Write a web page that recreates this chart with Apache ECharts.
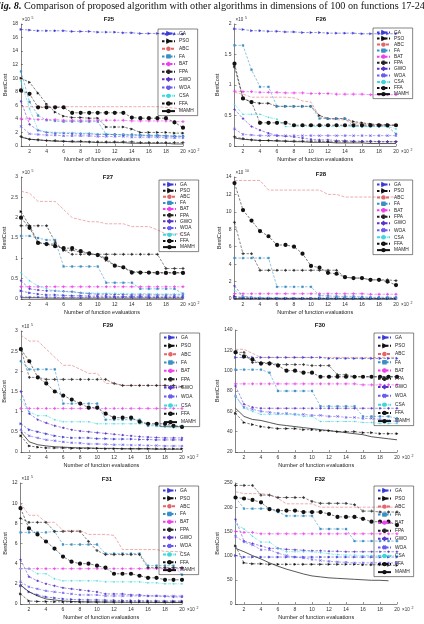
<!DOCTYPE html>
<html><head><meta charset="utf-8">
<script src="https://cdn.jsdelivr.net/npm/echarts@6/dist/echarts.min.js"></script>
<style>html,body{margin:0;padding:0;background:#fff}#c{width:424px;height:624px}</style>
</head><body><div id="c"></div>
<script>
// ---------------- DATA ----------------
const algorithms = ['GA','PSO','ABC','FA','BAT','FPA','GWO','WOA','CSA','FFA','MAMH'];
const evaluations = [1,2,3,4,5,6,7,8,9,10,11,12,13,14,15,16,17,18,19,20];
const xTickValues = [2,4,6,8,10,12,14,16,18,20];
const panelTitles = ['F25','F26','F27','F28','F29','F30','F31','F32'];
const yExponents = ['5','5','5','10','5','','5',''];
const yMins = [0,0,0,0,0,20,0,0];
const yMaxs = [18,2,3,14,3,140,12,250];
const yIntervals = [2,0.5,0.5,2,0.5,20,2,50];

// each panel: rows in the order of `algorithms`
const F25 = [
  [17.2,17.1,17.0,17.0,17.0,17.0,16.9,16.9,16.9,16.8,16.8,16.8,16.7,16.7,16.6,16.6,16.6,16.5,16.5,16.5],
  [10.0,9.4,7.8,6.2,5.0,4.4,4.2,4.2,4.1,4.1,2.8,2.8,2.8,2.5,2.0,2.0,2.0,2.0,1.9,1.9],
  [5.8,5.8,5.8,5.8,5.8,5.8,5.8,5.8,5.8,5.8,5.8,5.8,5.8,5.8,5.8,5.8,5.8,5.7,5.6,5.4],
  [11.0,6.5,4.5,3.8,3.7,3.6,3.6,3.6,3.6,3.6,1.7,1.7,1.7,1.7,1.6,1.6,1.6,1.5,1.5,1.5],
  [4.0,4.0,3.9,3.9,3.9,3.8,3.8,3.8,3.8,3.8,3.8,3.8,3.8,3.7,3.7,3.7,3.7,3.7,3.6,3.6],
  [1.4,1.0,0.9,0.8,0.8,0.7,0.7,0.7,0.6,0.6,0.6,0.6,0.6,0.6,0.5,0.5,0.5,0.5,0.5,0.5],
  [6.6,3.2,2.3,2.0,1.9,1.9,1.8,1.8,1.8,1.7,1.7,1.7,1.6,1.6,1.6,1.5,1.5,1.5,1.4,1.4],
  [2.9,1.8,1.7,1.6,1.6,1.5,1.5,1.5,1.5,1.4,1.4,1.4,1.4,1.3,1.3,1.3,1.3,1.2,1.2,1.2],
  [9.6,5.5,2.4,2.1,2.0,2.0,2.0,1.9,1.9,1.8,1.8,1.7,1.7,1.6,1.6,1.5,1.5,1.5,1.4,1.4],
  [8.2,7.7,5.7,5.7,5.7,5.7,4.9,4.9,4.9,4.9,4.9,4.9,4.9,4.2,4.1,4.1,4.1,4.1,3.5,2.7],
  [1.3,1.0,0.9,0.8,0.7,0.7,0.6,0.6,0.6,0.5,0.5,0.5,0.5,0.4,0.4,0.4,0.4,0.4,0.3,0.3]
];
const F26 = [
  [1.92,1.91,1.89,1.89,1.88,1.88,1.87,1.87,1.86,1.86,1.86,1.85,1.85,1.85,1.85,1.84,1.84,1.84,1.84,1.84],
  [1.30,0.78,0.72,0.70,0.70,0.65,0.65,0.65,0.65,0.65,0.50,0.45,0.45,0.45,0.40,0.38,0.36,0.35,0.35,0.34],
  [0.88,0.85,0.80,0.80,0.80,0.80,0.80,0.79,0.74,0.72,0.48,0.44,0.43,0.43,0.38,0.36,0.35,0.34,0.34,0.33],
  [1.65,1.65,1.25,0.97,0.97,0.65,0.65,0.65,0.65,0.65,0.45,0.45,0.45,0.45,0.32,0.32,0.32,0.32,0.32,0.20],
  [0.90,0.89,0.89,0.88,0.88,0.88,0.87,0.87,0.87,0.86,0.86,0.86,0.85,0.85,0.85,0.85,0.84,0.84,0.84,0.84],
  [0.15,0.12,0.10,0.09,0.09,0.09,0.08,0.08,0.08,0.08,0.08,0.07,0.07,0.07,0.07,0.07,0.07,0.07,0.07,0.07],
  [0.60,0.45,0.32,0.26,0.21,0.17,0.16,0.15,0.13,0.11,0.10,0.10,0.09,0.09,0.08,0.08,0.08,0.07,0.07,0.07],
  [0.28,0.19,0.18,0.17,0.17,0.17,0.17,0.17,0.17,0.17,0.17,0.17,0.17,0.17,0.17,0.17,0.17,0.17,0.17,0.17],
  [0.68,0.52,0.52,0.52,0.47,0.44,0.32,0.32,0.32,0.32,0.32,0.32,0.32,0.32,0.32,0.32,0.32,0.32,0.32,0.28],
  [1.35,0.78,0.72,0.38,0.38,0.38,0.38,0.34,0.34,0.34,0.34,0.34,0.34,0.34,0.34,0.34,0.34,0.34,0.34,0.34],
  [0.13,0.11,0.10,0.09,0.09,0.08,0.08,0.07,0.07,0.06,0.06,0.06,0.05,0.05,0.05,0.05,0.04,0.04,0.04,0.04]
];
const F27 = [
  [0.20,0.15,0.12,0.10,0.10,0.09,0.08,0.08,0.07,0.07,0.07,0.06,0.06,0.06,0.06,0.05,0.05,0.05,0.05,0.05],
  [2.15,1.80,1.40,1.35,1.35,1.20,1.20,1.15,1.12,1.08,0.95,0.82,0.78,0.68,0.66,0.65,0.65,0.65,0.65,0.65],
  [2.65,2.60,2.40,2.40,2.40,2.20,2.00,1.95,1.90,1.90,1.85,1.85,1.85,1.78,1.78,1.78,1.70,1.60,1.60,1.60],
  [1.55,1.55,1.50,1.45,1.45,0.80,0.80,0.80,0.80,0.80,0.40,0.40,0.40,0.40,0.25,0.25,0.25,0.25,0.25,0.13],
  [0.30,0.30,0.30,0.30,0.30,0.30,0.30,0.30,0.30,0.30,0.30,0.30,0.30,0.30,0.30,0.30,0.30,0.30,0.30,0.30],
  [1.80,1.80,1.80,1.80,1.40,1.20,1.10,1.10,1.10,1.10,1.10,1.10,1.10,1.10,1.10,1.10,1.10,0.75,0.75,0.75],
  [0.45,0.25,0.22,0.20,0.20,0.19,0.18,0.15,0.13,0.12,0.12,0.11,0.11,0.10,0.10,0.10,0.10,0.10,0.10,0.10],
  [0.06,0.05,0.05,0.05,0.04,0.04,0.04,0.04,0.04,0.04,0.04,0.04,0.04,0.04,0.04,0.04,0.04,0.04,0.04,0.04],
  [0.65,0.45,0.32,0.25,0.20,0.18,0.17,0.15,0.15,0.14,0.14,0.14,0.13,0.13,0.13,0.13,0.12,0.12,0.12,0.12],
  [2.00,1.75,1.38,1.35,1.30,1.25,1.25,1.18,1.12,1.08,1.00,0.82,0.78,0.65,0.65,0.65,0.64,0.64,0.64,0.64],
  [0.03,0.03,0.03,0.02,0.02,0.02,0.02,0.02,0.02,0.02,0.02,0.02,0.02,0.02,0.02,0.02,0.02,0.02,0.02,0.02]
];
const F28 = [
  [0.10,0.08,0.06,0.06,0.05,0.05,0.05,0.05,0.05,0.05,0.05,0.05,0.05,0.05,0.05,0.05,0.05,0.05,0.05,0.05],
  [0.30,0.15,0.10,0.08,0.08,0.07,0.07,0.07,0.06,0.06,0.06,0.06,0.06,0.06,0.06,0.06,0.06,0.06,0.06,0.06],
  [13.6,13.6,13.6,13.6,12.5,12.5,12.5,12.5,12.5,12.5,12.5,12.0,12.0,11.7,11.7,11.7,11.7,11.7,11.7,11.7],
  [4.7,4.7,4.7,4.7,4.7,1.4,1.4,1.4,1.4,1.4,0.40,0.35,0.30,0.30,0.30,0.25,0.20,0.20,0.20,0.20],
  [0.60,0.60,0.60,0.60,0.60,0.60,0.60,0.60,0.60,0.60,0.60,0.60,0.60,0.60,0.60,0.60,0.55,0.55,0.55,0.55],
  [8.8,5.2,5.2,3.3,3.3,3.3,3.3,3.3,3.3,3.3,3.3,3.3,3.3,2.5,2.4,2.4,2.2,2.2,2.2,2.1],
  [1.5,0.30,0.20,0.15,0.12,0.10,0.10,0.10,0.10,0.10,0.10,0.10,0.10,0.10,0.10,0.10,0.10,0.10,0.10,0.10],
  [0.20,0.10,0.08,0.07,0.06,0.06,0.06,0.05,0.05,0.05,0.05,0.05,0.05,0.05,0.05,0.05,0.05,0.05,0.05,0.05],
  [1.0,0.30,0.20,0.15,0.15,0.12,0.12,0.12,0.10,0.10,0.10,0.10,0.10,0.10,0.10,0.10,0.10,0.10,0.10,0.10],
  [13.3,10.2,9.0,7.8,7.2,6.2,6.2,6.0,5.2,3.8,3.6,3.0,2.9,2.5,2.4,2.4,2.2,2.2,2.0,1.6],
  [0.05,0.04,0.03,0.03,0.03,0.02,0.02,0.02,0.02,0.02,0.02,0.02,0.02,0.02,0.02,0.02,0.02,0.02,0.02,0.02]
];
const F29 = [
  [0.70,0.55,0.50,0.45,0.40,0.37,0.35,0.35,0.35,0.33,0.33,0.32,0.32,0.32,0.31,0.31,0.30,0.30,0.30,0.30],
  [0.40,0.15,0.12,0.10,0.10,0.10,0.09,0.09,0.09,0.09,0.08,0.08,0.08,0.08,0.08,0.08,0.08,0.08,0.08,0.08],
  [2.90,2.75,2.75,2.55,2.35,2.15,2.15,2.05,1.95,1.95,1.70,1.70,1.65,1.65,1.65,1.65,1.65,1.65,1.60,1.60],
  [2.25,2.05,2.05,2.05,2.05,1.20,1.20,1.20,1.20,1.20,0.80,0.80,0.80,0.80,0.80,0.65,0.65,0.65,0.65,0.65],
  [1.08,1.08,1.08,1.08,1.08,1.08,1.08,1.08,1.08,1.08,1.08,1.08,1.08,1.08,1.08,1.08,1.08,1.08,1.08,1.08],
  [2.55,1.85,1.85,1.80,1.80,1.80,1.80,1.80,1.80,1.80,1.80,1.70,1.65,1.65,1.65,1.65,1.65,1.65,1.65,1.62],
  [1.50,0.95,0.80,0.72,0.65,0.60,0.55,0.52,0.50,0.48,0.46,0.44,0.42,0.40,0.38,0.37,0.36,0.35,0.35,0.35],
  [0.55,0.40,0.35,0.30,0.28,0.25,0.23,0.22,0.20,0.20,0.19,0.18,0.18,0.17,0.17,0.16,0.16,0.15,0.15,0.15],
  [1.30,1.00,0.90,0.90,0.80,0.75,0.75,0.75,0.75,0.70,0.70,0.70,0.70,0.70,0.70,0.70,0.65,0.62,0.60,0.60],
  [2.55,2.25,1.85,1.70,1.50,1.40,1.30,1.20,1.10,1.10,0.95,0.85,0.85,0.85,0.75,0.70,0.70,0.70,0.65,0.62],
  [0.50,0.25,0.18,0.15,0.13,0.12,0.11,0.10,0.10,0.09,0.09,0.09,0.08,0.08,0.08,0.08,0.07,0.07,0.07,0.07]
];
const F30 = [
  [113,113,113,113,113,113,113,113,113,113,113,112,112,112,112,112,112,112,112,112],
  [58,49,47,45,44,43,43,43,42,42,41,41,40,40,40,39,39,38,38,38],
  [121,121,117,113,113,113,113,113,113,113,113,113,113,113,113,113,113,113,113,113],
  [101,101,101,101,98,80,80,80,80,80,65,65,65,65,65,55,55,55,55,53],
  [87,87,87,87,87,87,87,87,87,87,87,87,87,87,87,86,86,86,86,86],
  [118,118,108,108,108,106,106,106,106,105,105,105,96,96,94,94,94,94,94,94],
  [85,67,64,63,63,63,63,63,63,63,63,63,63,63,63,63,63,63,63,63],
  [75,64,62,60,59,58,58,57,57,56,56,55,55,54,54,53,53,52,51,50],
  [75,63,60,57,57,57,57,57,55,55,50,50,50,50,50,49,49,48,48,48],
  [118,114,111,107,107,105,100,100,98,98,94,94,94,94,94,94,94,94,94,94],
  [63,55,52,51,49,47,46,45,44,43,42,41,40,39,38,37,35,34,33,32]
];
const F31 = [
  [1.8,1.2,0.9,0.7,0.6,0.5,0.45,0.42,0.4,0.4,0.38,0.36,0.35,0.34,0.33,0.32,0.31,0.3,0.3,0.3],
  [1.0,0.3,0.25,0.25,0.22,0.22,0.21,0.21,0.2,0.2,0.2,0.2,0.2,0.2,0.2,0.2,0.2,0.2,0.2,0.2],
  [10.0,8.8,8.8,8.1,8.1,7.3,7.3,7.3,6.9,6.9,6.9,6.8,5.4,5.4,5.4,5.4,5.4,5.2,5.2,5.2],
  [7.1,7.1,7.1,7.1,7.2,5.9,5.9,5.9,5.9,5.9,5.0,5.0,5.0,5.0,5.0,3.8,3.8,3.8,3.8,2.9],
  [3.5,3.5,3.5,3.5,3.5,3.5,3.5,3.5,3.5,3.5,3.5,3.5,3.5,3.5,3.5,3.5,3.5,3.5,3.5,3.5],
  [8.5,8.1,8.1,8.1,7.2,7.2,7.2,7.2,6.2,5.3,4.9,4.9,4.9,4.9,4.9,3.6,3.6,3.6,3.6,3.6],
  [4.4,2.7,2.3,2.0,1.8,1.6,1.5,1.4,1.3,1.2,1.0,1.0,1.0,0.9,0.9,0.8,0.8,0.75,0.7,0.7],
  [2.2,1.7,1.5,1.3,1.2,1.1,1.0,0.9,0.9,0.9,0.8,0.8,0.8,0.8,0.8,0.8,0.8,0.8,0.8,0.8],
  [3.5,3.5,3.0,3.0,2.5,2.3,2.3,2.3,2.3,2.3,2.2,2.2,2.2,2.2,2.2,2.1,2.1,2.0,2.0,2.0],
  [9.5,7.5,6.9,6.2,5.5,4.7,4.2,4.0,4.0,3.8,3.6,3.0,3.0,3.0,2.8,2.6,2.6,2.4,2.4,2.4],
  [1.9,1.2,0.8,0.5,0.4,0.3,0.25,0.22,0.2,0.2,0.18,0.18,0.17,0.17,0.16,0.16,0.15,0.15,0.15,0.15]
];
const F32 = [
  [100,97,97,97,97,97,97,97,97,97,97,97,97,97,97,97,97,97,97,97],
  [120,85,83,83,82,82,82,82,82,82,82,82,82,82,82,81,81,81,80,80],
  [232,228,228,228,226,218,207,207,207,207,200,200,200,200,200,200,200,200,200,200],
  [220,197,197,197,197,190,182,182,182,182,155,155,155,155,130,130,130,130,130,130],
  [150,148,148,145,145,145,145,145,145,145,145,145,145,145,145,145,145,145,145,145],
  [245,245,245,225,225,220,220,220,220,212,208,208,208,208,205,192,192,190,190,190],
  [175,130,125,120,115,115,113,112,111,110,110,109,109,108,108,108,108,108,108,108],
  [140,128,122,112,112,105,100,97,95,92,90,88,87,86,85,85,85,85,85,85],
  [165,155,140,128,128,115,108,108,108,108,106,104,102,101,101,100,100,100,100,100],
  [220,218,215,210,196,193,193,193,190,190,190,186,180,180,180,176,170,170,170,163],
  [115,108,100,93,85,78,72,67,62,58,56,54,53,52,51,50,49,49,48,null]
];
const panels = [F25,F26,F27,F28,F29,F30,F31,F32];

// ---------------- STYLE / LAYOUT ----------------
const PLUS = 'path://M4.3,0H5.7V4.3H10V5.7H5.7V10H4.3V5.7H0V4.3H4.3Z';
const STYLES = {
  GA:  {color:'#3a3ad6', symbol:'triangle', rot:-90, size:2.2, dash:[2.5,1.5]},
  PSO: {color:'#111111', symbol:'triangle', rot:-90, size:2.2, dash:[2.5,1.5]},
  ABC: {color:'#e2676b', symbol:'none', size:0, dash:[3,1.5]},
  FA:  {color:'#3a8fc6', symbol:'rect', size:1.8, dash:[2.5,1.5]},
  BAT: {color:'#ee3fee', symbol:PLUS, size:2.6, dash:[2.5,1.5]},
  FPA: {color:'#222222', symbol:PLUS, size:2.6, dash:[2.5,1.5]},
  GWO: {color:'#5b35c9', symbol:'diamond', size:2.2, dash:[2.5,1.5]},
  WOA: {color:'#6a5cf0', symbol:PLUS, rot:45, size:2.6, dash:[2.5,1.5]},
  CSA: {color:'#3fd7d9', symbol:'circle', size:1.2, dash:[3,1,0.8,1]},
  FFA: {color:'#111111', symbol:'emptyCircle', size:2.2, dash:[2.5,1.5]},
  MAMH:{color:'#111111', symbol:'none', size:0, dash:'solid'}
};
const GRIDS = [
  {left:21, top:24, width:162, height:122},
  {left:234.5, top:24, width:161.5, height:122},
  {left:21, top:177, width:162, height:122},
  {left:234.5, top:177, width:161.5, height:122},
  {left:20.5, top:331, width:161.5, height:121},
  {left:235.5, top:330, width:161.5, height:122},
  {left:20.5, top:483, width:161.5, height:121},
  {left:235.5, top:483, width:161.5, height:121}
];
const LEGBOX = [[158,29,200,121],[373,28,411,104],[159,180,196,257],[373,180,405,260],
                [160,333,194,432],[374,333,409,431],[159,486,195,580],[374,486,411,582]];
const TITLEPOS = [[109,19],[321,19],[108,177],[321,174],[108,325],[320,325],[107,479],[320,479]];
const FONT = 'Liberation Sans';

const option = {animation:false, backgroundColor:'#fff',
  grid:[], xAxis:[], yAxis:[], series:[], legend:[], graphic:[]};

panels.forEach((rows, p) => {
  const g = GRIDS[p];
  option.grid.push({left:g.left, top:g.top, width:g.width, height:g.height, containLabel:false});
  const axisCommon = {
    axisLine:{show:true, onZero:false, lineStyle:{color:'#333', width:0.6}},
    axisTick:{show:true, inside:true, length:2, lineStyle:{color:'#333', width:0.5}},
    splitLine:{show:false},
    nameLocation:'middle',
    nameTextStyle:{fontSize:5.5, color:'#222', fontFamily:FONT}
  };
  option.xAxis.push(Object.assign({}, axisCommon, {
    type:'value', gridIndex:p, min:1, max:20,
    axisTick:Object.assign({}, axisCommon.axisTick, {customValues:xTickValues}),
    axisLabel:{customValues:xTickValues, fontSize:5, color:'#333', margin:3, fontFamily:FONT},
    name:'Number of function evaluations', nameGap:10
  }));
  option.yAxis.push(Object.assign({}, axisCommon, {
    type:'value', gridIndex:p, min:yMins[p], max:yMaxs[p], interval:yIntervals[p],
    axisLabel:{fontSize:5, color:'#333', margin:3, fontFamily:FONT},
    name:'BestCost', nameGap:yMaxs[p] >= 100 ? 13 : 11, nameRotate:90
  }));
  algorithms.forEach((name, a) => {
    const s = STYLES[name];
    option.series.push({
      type:'line', name, xAxisIndex:p, yAxisIndex:p, silent:true,
      data: evaluations.map((x, k) => [x, rows[a][k]]),
      symbol:s.symbol, symbolSize:s.size, symbolRotate:s.rot || 0,
      showSymbol: s.symbol !== 'none',
      lineStyle:{color:s.color, width:name === 'MAMH' ? 0.7 : 0.55, type:s.dash},
      itemStyle:{color:s.color, borderColor:s.color, borderWidth:0.4},
      z: name === 'MAMH' ? 3 : 2
    });
  });
  const b = LEGBOX[p];
  const pad = 2, ih = 5.6;
  const gap = Math.max(0.3, ((b[3]-b[1]) - 2*pad - 11*ih) / 10);
  option.legend.push({
    data: algorithms, orient:'vertical', left:b[0], top:b[1], padding:[pad,4,pad,3],
    itemWidth:13, itemHeight:3, itemGap:gap, selectedMode:false,
    borderColor:'#333', borderWidth:0.6,
    textStyle:{fontSize:4.8, color:'#222', fontFamily:FONT, lineHeight:5, padding:[0,0,0,-1]}
  });
  const t = TITLEPOS[p];
  option.graphic.push({type:'text', x:t[0], y:t[1], silent:true,
    style:{text:panelTitles[p], font:'bold 6px ' + FONT, fill:'#111', align:'center', verticalAlign:'middle'}});
  // x exponent
  const xr = g.left + g.width + 5;
  const xb = g.top + g.height + 6;
  option.graphic.push({type:'text', x:xr, y:xb, silent:true,
    style:{text:'\u00d710', font:'4.5px ' + FONT, fill:'#333', align:'left', verticalAlign:'middle'}});
  option.graphic.push({type:'text', x:xr + 9.5, y:xb - 2, silent:true,
    style:{text:'2', font:'3.5px ' + FONT, fill:'#333', align:'left', verticalAlign:'middle'}});
  if (yExponents[p]) {
    option.graphic.push({type:'text', x:g.left + 1, y:g.top - 4, silent:true,
      style:{text:'\u00d710', font:'4.5px ' + FONT, fill:'#333', align:'left', verticalAlign:'middle'}});
    option.graphic.push({type:'text', x:g.left + 10.5, y:g.top - 6, silent:true,
      style:{text:yExponents[p], font:'3.5px ' + FONT, fill:'#333', align:'left', verticalAlign:'middle'}});
  }
});

option.graphic.push({type:'text', x:-6, y:6, silent:true,
  style:{text:'{b|Fig. 8.} Comparison of proposed algorithm with other algorithms in dimensions of 100 on functions 17-24',
    font:'10.2px Liberation Serif', fill:'#111', align:'left', verticalAlign:'middle',
    rich:{b:{font:'italic bold 10.2px Liberation Serif', fill:'#111'}}}});

const chart = echarts.init(document.getElementById('c'), null, {renderer:'canvas'});
chart.setOption(option);
</script></body></html>
